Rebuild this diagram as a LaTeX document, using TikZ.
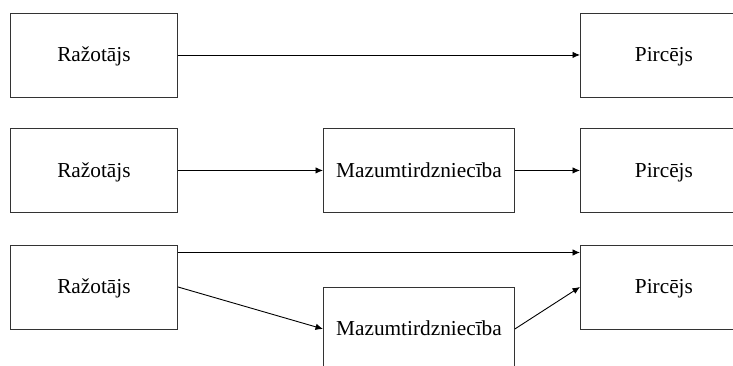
\documentclass[tikz,border=0pt]{standalone}
\usepackage{fontspec}
\setmainfont{Liberation Serif}
\usetikzlibrary{arrows.meta}
\begin{document}
\begin{tikzpicture}[x=1pt,y=-1pt,
  label text/.style={font=\fontsize{21.3}{25}\selectfont, text height=14pt, text depth=0pt, inner sep=0pt},
  stage/.style={label text, draw=black!80, line width=0.9pt, anchor=north west, minimum height=84pt},
  shop/.style={stage, minimum width=191pt},
  party/.style={stage, minimum width=167pt},
  flow/.style={draw=black, line width=0.9pt, -{Latex[length=7.5pt,width=6.5pt]}}]
\useasboundingbox (0,0) rectangle (733,365);
\begin{scope}
\clip (0,0) rectangle (733,365);
% direct channel
\node[party] (p1) at (10,12.5) {Ražotājs};
\node[party] (b1) at (580,12.5) {Pircējs};
\draw[flow] (p1.east) -- (b1.west);
% channel through retail
\node[party] (p2) at (10,128) {Ražotājs};
\node[shop]  (m2) at (323,128) {Mazumtirdzniecība};
\node[party] (b2) at (580,128) {Pircējs};
\draw[flow] (p2.east) -- (m2.west);
\draw[flow] (m2.east) -- (b2.west);
% mixed channel
\node[party] (p3) at (10,244.5) {Ražotājs};
\node[shop]  (m3) at (323,286.5) {};
\node[label text] (t3) at (m3.north) [anchor=center, yshift=-42pt] {Mazumtirdzniecība};
\node[party] (b3) at (580,244.5) {Pircējs};
\draw[flow] ([yshift=-8pt]p3.north east) -- ([yshift=-8pt]b3.north west);
\draw[flow] (p3.east) -- (m3.west);
\draw[flow] (m3.west -| m3.east) -- (b3.west);
\end{scope}
\end{tikzpicture}
\end{document}
